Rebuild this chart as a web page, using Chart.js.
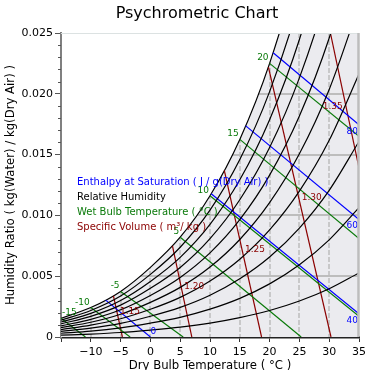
<!DOCTYPE html>
<html>
<head>
<meta charset="utf-8">
<script src="https://cdn.jsdelivr.net/npm/chart.js@4.4.1/dist/chart.umd.min.js"></script>
<style>
  html, body { margin: 0; padding: 0; background: #fff; }
</style>
</head>
<body>
<canvas id="chart" width="370" height="370"></canvas>
<script>
// dry bulb temperatures where the humidity curves were read (°C)
const temps = [-15, -10, -5, 0, 5, 10, 15, 20, 25, 30, 35];

// humidity ratio (kg/kg) of each relative humidity curve at those temperatures
const rh10 = [0.00015, 0.00024, 0.00037, 0.00057, 0.00081, 0.00114, 0.00159, 0.00218, 0.00296, 0.00397, 0.00527];
const rh20 = [0.00031, 0.00048, 0.00075, 0.00114, 0.00162, 0.00229, 0.00318, 0.00437, 0.00594, 0.00799, 0.01063];
const rh30 = [0.00046, 0.00073, 0.00112, 0.00171, 0.00244, 0.00344, 0.00479, 0.00658, 0.00896, 0.01206, 0.01608];
const rh40 = [0.00061, 0.00097, 0.00150, 0.00228, 0.00326, 0.00460, 0.00640, 0.00881, 0.01200, 0.01618, 0.02163];
const rh50 = [0.00077, 0.00121, 0.00187, 0.00285, 0.00408, 0.00575, 0.00802, 0.01105, 0.01507, 0.02036, 0.02727];
const rh60 = [0.00092, 0.00145, 0.00224, 0.00342, 0.00490, 0.00692, 0.00965, 0.01331, 0.01817, 0.02459, 0.03302];
const rh70 = [0.00108, 0.00170, 0.00262, 0.00400, 0.00572, 0.00809, 0.01129, 0.01558, 0.02131, 0.02888, 0.03887];
const rh80 = [0.00123, 0.00194, 0.00300, 0.00457, 0.00655, 0.00926, 0.01293, 0.01787, 0.02447, 0.03323, 0.04482];
const rh90 = [0.00138, 0.00218, 0.00337, 0.00515, 0.00738, 0.01043, 0.01459, 0.02018, 0.02766, 0.03763, 0.05088];
const saturation = [0.00154, 0.00242, 0.00375, 0.00573, 0.00821, 0.01162, 0.01625, 0.02250, 0.03089, 0.04210, 0.05705];

// wet bulb lines (green)
const wbLabels = ['-15', '-10', '-5', '5', '10', '15', '20'];
const wbStartT = [-15, -10, -5, 5, 10, 15, 20];
const wbStartW = [0.00154, 0.00242, 0.00375, 0.00821, 0.01162, 0.01625, 0.02250];
const wbEndT = [-10.9, -3.4, 5.5, 25.3, 35, 35, 35];
const wbEndW = [0, 0, 0, 0, 0.0017, 0.0081, 0.0165];

// enthalpy lines (blue)
const hLabels = ['0', '40', '60', '80'];
const hStartT = [-7.5, 10.2, 16.0, 20.6];
const hStartW = [0.00303, 0.01178, 0.01736, 0.02337];
const hEndT = [0, 35, 35, 35];
const hEndW = [0, 0.0019, 0.00966, 0.01745];

// specific volume lines (dark red)
const vLabels = ['1.15', '1.20', '1.25', '1.30', '1.35'];
const vTopT = [-6.2, 3.7, 12.4, 19.8, 30.2];
const vTopW = [0.00339, 0.0075, 0.0137, 0.0222, 0.025];
const vEndT = [-4.7, 6.95, 18.65, 30.3, 35];
const vEndW = [0, 0, 0, 0, 0.0139];

const legendItems = [
    { text: 'Enthalpy at Saturation ( J / g(Dry Air) )', color: '#0000ff' },
    { text: 'Relative Humidity', color: '#000000' },
    { text: 'Wet Bulb Temperature ( °C )', color: '#0a7a0a' },
    { text: 'Specific Volume ( m³/ kg )', color: '#8b0000' }
];

const FONT = '"DejaVu Sans", sans-serif';
Chart.defaults.font.family = FONT;

function pts(xs, ys) {
    return xs.map((x, i) => ({ x: x, y: ys[i] }));
}

const datasets = [];
datasets.push({
    kind: 'sat',
    data: pts(temps, saturation),
    borderColor: '#000',
    borderWidth: 1.2,
    fill: 'origin',
    backgroundColor: '#ebebef',
    cubicInterpolationMode: 'monotone',
    order: 1
});
[rh10, rh20, rh30, rh40, rh50, rh60, rh70, rh80, rh90].forEach(arr => {
    datasets.push({
        data: pts(temps, arr),
        borderColor: '#000',
        borderWidth: 1.2,
        cubicInterpolationMode: 'monotone'
    });
});
wbLabels.forEach((lab, i) => {
    datasets.push({
        kind: 'wb', lineLabel: lab,
        data: [{ x: wbStartT[i], y: wbStartW[i] }, { x: wbEndT[i], y: wbEndW[i] }],
        borderColor: '#0a7a0a', borderWidth: 1.2
    });
});
hLabels.forEach((lab, i) => {
    datasets.push({
        kind: 'h', lineLabel: lab,
        data: [{ x: hStartT[i], y: hStartW[i] }, { x: hEndT[i], y: hEndW[i] }],
        borderColor: '#0000ff', borderWidth: 1.2
    });
});
vLabels.forEach((lab, i) => {
    datasets.push({
        kind: 'v', lineLabel: lab,
        data: [{ x: vTopT[i], y: vTopW[i] }, { x: vEndT[i], y: vEndW[i] }],
        borderColor: '#8b0000', borderWidth: 1.2
    });
});

// grid only inside the area under the saturation curve
const fillGrid = {
    id: 'fillGrid',
    beforeDatasetDraw(chart, args) {
        if (chart.data.datasets[args.index].kind !== 'sat') return;
        const { ctx, chartArea: a, scales: { x, y } } = chart;
        const points = args.meta.data;
        const y0 = y.getPixelForValue(0);
        ctx.save();
        ctx.beginPath();
        ctx.rect(a.left, a.top, a.width, a.height);
        ctx.clip();
        ctx.beginPath();
        args.meta.dataset.path(ctx);
        ctx.lineTo(points[points.length - 1].x, y0);
        ctx.lineTo(points[0].x, y0);
        ctx.closePath();
        ctx.clip();
        ctx.strokeStyle = '#bdbdbd';
        ctx.lineWidth = 2;
        y.ticks.forEach(t => {
            if (t.value <= 0 || t.value >= 0.025) return;
            const py = Math.round(y.getPixelForValue(t.value));
            ctx.beginPath();
            ctx.moveTo(a.left, py);
            ctx.lineTo(a.right, py);
            ctx.stroke();
        });
        ctx.lineWidth = 1.5;
        ctx.setLineDash([5, 2]);
        x.ticks.forEach(t => {
            if (t.value <= -15 || t.value >= 35) return;
            const px = Math.round(x.getPixelForValue(t.value));
            ctx.beginPath();
            ctx.moveTo(px, a.top);
            ctx.lineTo(px, a.bottom);
            ctx.stroke();
        });
        ctx.restore();
    }
};

const lineLabels = {
    id: 'lineLabels',
    afterDatasetsDraw(chart) {
        const { ctx, chartArea: a } = chart;
        ctx.save();
        ctx.font = '9px ' + FONT;
        chart.data.datasets.forEach((ds, i) => {
            if (!ds.lineLabel) return;
            const [p0, p1] = chart.getDatasetMeta(i).data;
            const w = ctx.measureText(ds.lineLabel).width;
            ctx.fillStyle = ds.borderColor;
            if (ds.kind === 'wb') {
                let tx = p0.x - 1;
                ctx.textAlign = 'right';
                if (tx - w < a.left + 1) { tx = a.left + 1; ctx.textAlign = 'left'; }
                ctx.textBaseline = 'alphabetic';
                ctx.fillText(ds.lineLabel, tx, p0.y - 3);
            } else if (ds.kind === 'h') {
                if (p1.x >= a.right - 1) {
                    ctx.textAlign = 'right';
                    ctx.textBaseline = 'top';
                    ctx.fillText(ds.lineLabel, p1.x - 1, p1.y + 2);
                } else {
                    ctx.textAlign = 'left';
                    ctx.textBaseline = 'alphabetic';
                    ctx.fillText(ds.lineLabel, p1.x, p1.y - 3);
                }
            } else {
                const mx = (p0.x + p1.x) / 2, my = (p0.y + p1.y) / 2;
                if (mx + 2 + w > a.right) {
                    ctx.textAlign = 'right';
                    ctx.textBaseline = 'top';
                    ctx.fillText(ds.lineLabel, mx - 2, my + 2);
                } else {
                    ctx.textAlign = 'left';
                    ctx.textBaseline = 'alphabetic';
                    ctx.fillText(ds.lineLabel, mx + 2, my - 2);
                }
            }
        });
        ctx.restore();
    }
};

const decorations = {
    id: 'decorations',
    afterDraw(chart) {
        const { ctx, chartArea: a, scales: { y } } = chart;
        ctx.save();
        // top and right spines
        ctx.strokeStyle = '#dce2e2';
        ctx.lineWidth = 1;
        ctx.beginPath();
        ctx.moveTo(a.left, a.top + 0.5);
        ctx.lineTo(a.right, a.top + 0.5);
        ctx.stroke();
        ctx.strokeStyle = '#bdbdbd';
        ctx.lineWidth = 2.5;
        ctx.beginPath();
        ctx.moveTo(a.right - 0.5, a.top);
        ctx.lineTo(a.right - 0.5, a.bottom);
        ctx.stroke();
        // minor y ticks
        ctx.strokeStyle = '#555';
        ctx.lineWidth = 1;
        for (let k = 1; k < 25; k++) {
            if (k % 5 === 0) continue;
            const py = Math.round(y.getPixelForValue(k / 1000)) + 0.5;
            ctx.beginPath();
            ctx.moveTo(a.left - 3, py);
            ctx.lineTo(a.left, py);
            ctx.stroke();
        }
        // titles
        ctx.fillStyle = '#000';
        ctx.textAlign = 'center';
        ctx.textBaseline = 'alphabetic';
        ctx.font = '16px ' + FONT;
        ctx.fillText('Psychrometric Chart', 197, 17.5);
        ctx.font = '11.7px ' + FONT;
        ctx.fillText('Dry Bulb Temperature ( °C )', (a.left + a.right) / 2, 369);
        ctx.save();
        ctx.translate(13.5, (a.top + a.bottom) / 2);
        ctx.rotate(-Math.PI / 2);
        ctx.fillText('Humidity Ratio ( kg(Water) / kg(Dry Air) )', 0, 0);
        ctx.restore();
        // legend
        ctx.font = '10px ' + FONT;
        ctx.textAlign = 'left';
        ctx.textBaseline = 'middle';
        legendItems.forEach((item, i) => {
            ctx.fillStyle = item.color;
            ctx.fillText(item.text, 77, 182 + i * 15);
        });
        ctx.restore();
    }
};

new Chart(document.getElementById('chart'), {
    type: 'line',
    data: { datasets: datasets },
    options: {
        responsive: false,
        devicePixelRatio: 1,
        animation: false,
        events: [],
        layout: { padding: { top: 33, right: 7, left: 0, bottom: 0 } },
        elements: {
            point: { radius: 0 },
            line: { tension: 0 }
        },
        scales: {
            x: {
                type: 'linear',
                min: -15,
                max: 35,
                z: 1,
                afterFit: s => { s.height = 33; },
                grid: { drawOnChartArea: false, tickLength: 5, tickColor: '#333' },
                border: { color: '#222', width: 2.5 },
                ticks: {
                    stepSize: 5,
                    autoSkip: false,
                    maxRotation: 0,
                    padding: 4,
                    color: '#000',
                    font: { size: 11 },
                    callback: v => v === -15 ? '' : String(v).replace('-', '\u2212')
                }
            },
            y: {
                type: 'linear',
                min: 0,
                max: 0.025,
                z: 1,
                afterFit: s => { s.width = 61; },
                grid: { drawOnChartArea: false, tickLength: 6, tickColor: '#555' },
                border: { color: '#808080', width: 2 },
                ticks: {
                    stepSize: 0.005,
                    padding: 2,
                    color: '#000',
                    font: { size: 11 },
                    callback: v => v === 0 ? '0' : v.toFixed(3)
                }
            }
        },
        plugins: {
            legend: { display: false },
            title: { display: false },
            tooltip: { enabled: false }
        }
    },
    plugins: [fillGrid, lineLabels, decorations]
});
</script>
</body>
</html>
